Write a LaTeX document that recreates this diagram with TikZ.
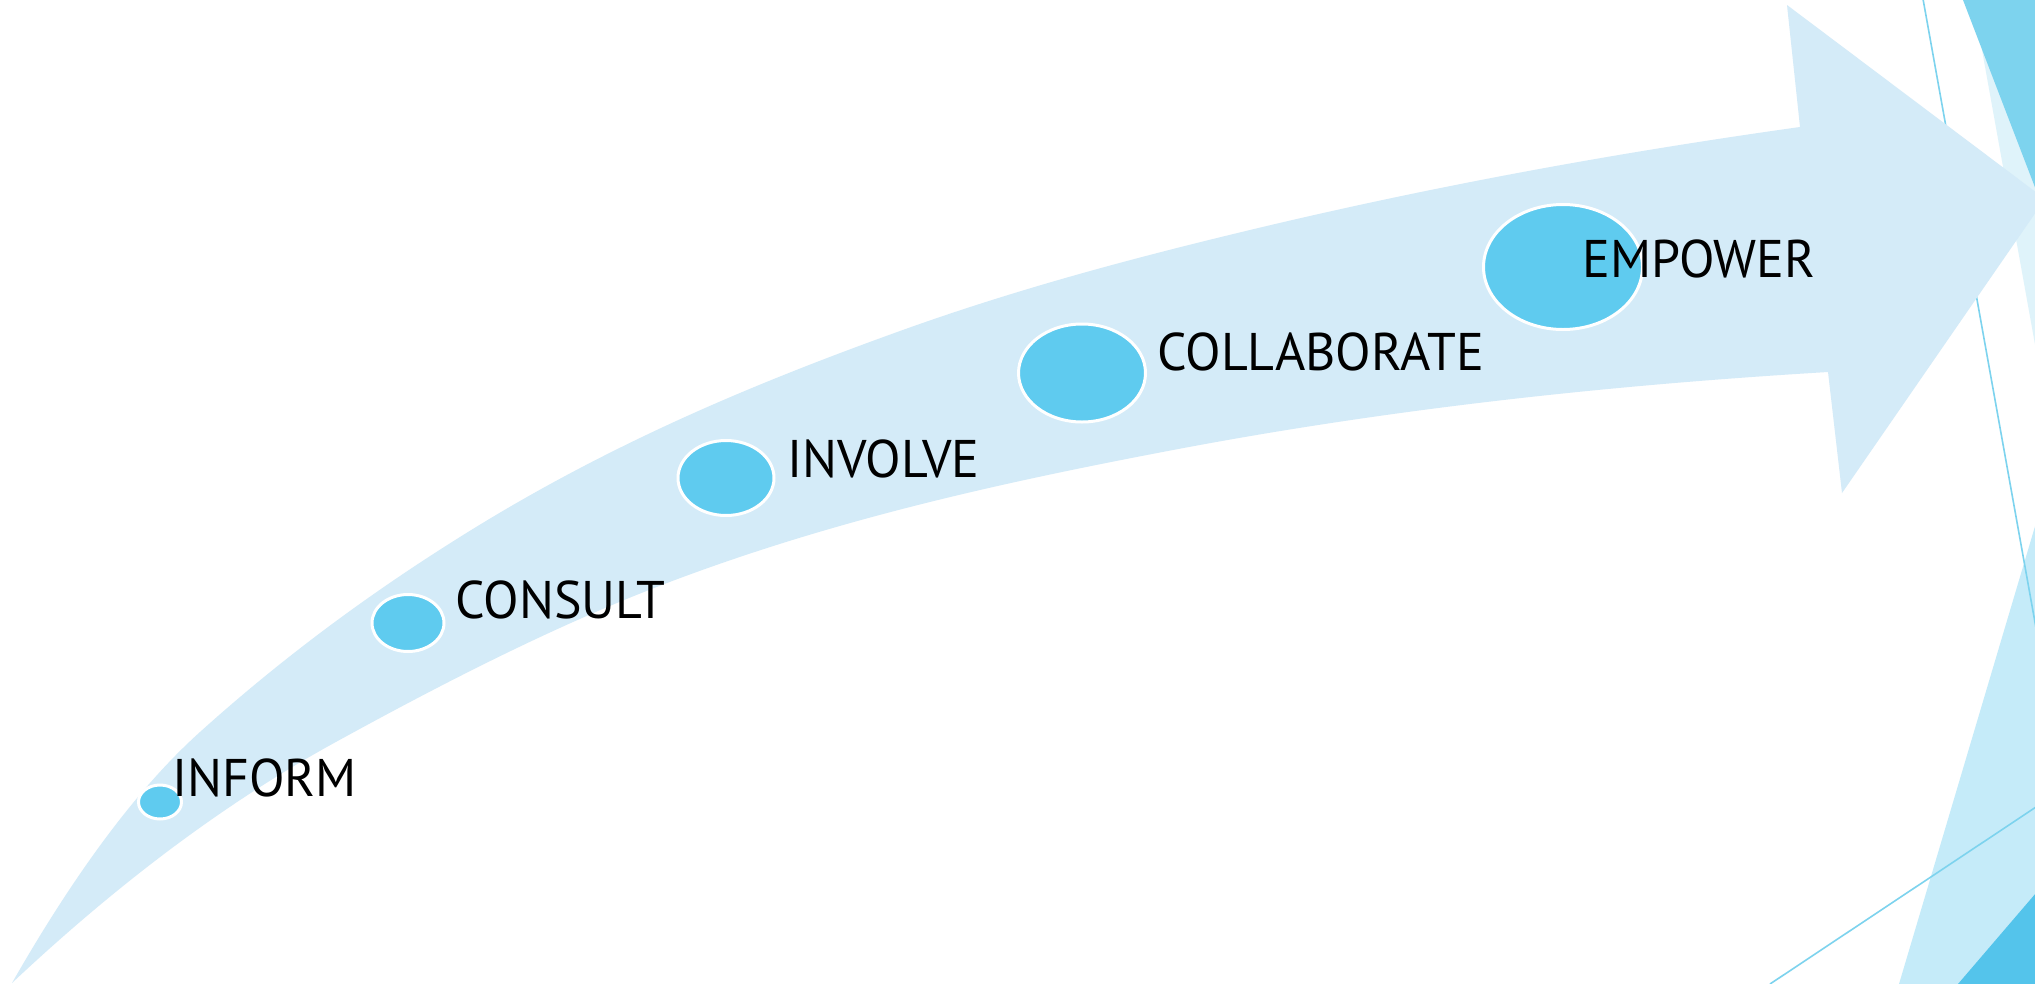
\documentclass[tikz,border=0pt]{standalone}
\usepackage{fontspec}
\setmainfont{PT Sans}[FakeStretch=0.98]
\usetikzlibrary{shapes.geometric}
\definecolor{arrowc}{RGB}{212,235,248}
\definecolor{dotc}{RGB}{95,203,239}
\definecolor{decodark}{RGB}{125,211,238}
\definecolor{decolight}{RGB}{223,243,250}
\definecolor{decobl}{RGB}{197,235,249}
\definecolor{decobd}{RGB}{84,196,235}
\definecolor{decoline}{RGB}{125,211,238}
\tikzset{
  dot/.style={ellipse, fill=dotc, draw=white, line width=3pt, inner sep=0pt},
  lbl/.style={anchor=base west, inner sep=0pt, text=black, font=\fontsize{53}{60}\selectfont},
  thinline/.style={draw=decoline, line width=1.6pt}
}
\begin{document}
\begin{tikzpicture}[x=1pt,y=-1pt]
\useasboundingbox (0,0) rectangle (2035,983);
\clip (0,0) rectangle (2035,983);
\fill[white] (0,0) rectangle (2035,983);
% right-side decoration
\fill[decolight] (1973,0) -- (2036,0) -- (2036,350) -- cycle;
\fill[decodark] (1963,0) -- (2036,0) -- (2036,190) -- cycle;
\fill[decobl] (1899,984) -- (2036,523) -- (2036,984) -- cycle;
\fill[decobd] (1958,984) -- (2036,893) -- (2036,984) -- cycle;
\draw[thinline] (1923,-1) -- (2036,628);
\draw[thinline] (1770,984) -- (2036,807);
% curved arrow
\fill[arrowc] (12,983)
  .. controls (74.7,873.3) and (137.3,788.4) .. (200,732)
  .. controls (289.3,651.6) and (378.7,587.4) .. (468,532)
  .. controls (612,442.7) and (756,382.8) .. (900,331)
  .. controls (1016.7,289) and (1133.3,258) .. (1250,230)
  .. controls (1433.3,186) and (1616.7,152.7) .. (1800,127)
  -- (1787,5) -- (2045,199) -- (1842,493) -- (1828,372)
  .. controls (1609.7,385.1) and (1391.3,408.5) .. (1173,450)
  .. controls (1004.3,482) and (835.7,518.9) .. (667,583)
  .. controls (556,625.2) and (445,682) .. (334,743)
  .. controls (226.7,802) and (119.3,882.1) .. (12,983) -- cycle;
% stages
\node[dot, minimum width=43pt, minimum height=34pt] (inform) at (160,802) {};
\node[dot, minimum width=72pt, minimum height=57pt] (consult) at (408,623) {};
\node[dot, minimum width=96pt, minimum height=75pt] (involve) at (726,478) {};
\node[dot, minimum width=127pt, minimum height=98pt] (collab) at (1082,373) {};
\node[dot, minimum width=159pt, minimum height=125pt] (empower) at (1563,267) {};
\node[lbl] (tinform) at (172,796) {INFORM};
\node[lbl] (tconsult) at (455,618) {CONSULT};
\node[lbl] (tinvolve) at (787,477) {INVOLVE};
\node[lbl] (tcollab) at (1157,370) {COLLABORATE};
\node[lbl] (tempower) at (1582,277) {EMPOWER};
\end{tikzpicture}
\end{document}
